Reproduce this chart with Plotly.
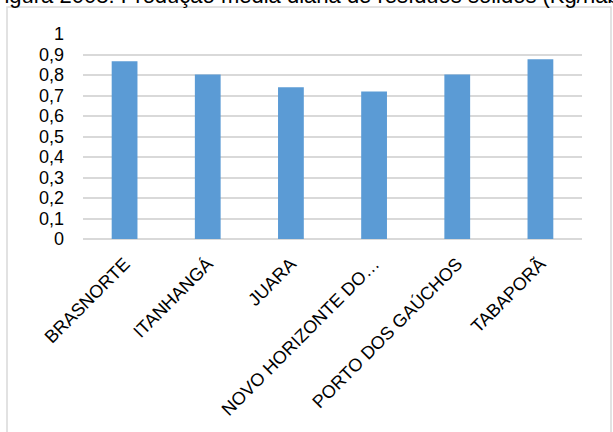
import plotly.graph_objects as go

# Produção média diária de resíduos sólidos por município
municipios = ["BRASNORTE", "ITANHANGÁ", "JUARA", "NOVO HORIZONTE DO…",
              "PORTO DOS GAÚCHOS", "TABAPORÃ"]
producao = [0.867, 0.803, 0.74, 0.72, 0.803, 0.877]
y_ticks = [0, 0.1, 0.2, 0.3, 0.4, 0.5, 0.6, 0.7, 0.8, 0.9, 1]
titulo = "Figura 2008: Produção média diária de resíduos sólidos (Kg/habitante/dia)"

W, H = 613, 432
L, R, T, B = 83, 582, 34, 239  # plot area in pixels


def px_x(p):
    return (p - L) / (R - L)


def px_y(p):
    return (B - p) / (B - T)


fig = go.Figure(go.Bar(
    x=municipios, y=producao,
    marker=dict(color="#5b9bd5", line=dict(width=0)),
))

fig.update_layout(
    width=W, height=H,
    margin=dict(l=L, r=W - R, t=T, b=H - B, autoexpand=False),
    paper_bgcolor="white", plot_bgcolor="white",
    separators=",.",
    bargap=0.69,
    showlegend=False,
    font=dict(family="Arial, Liberation Sans", color="#000000"),
)

fig.update_yaxes(
    range=[0, 1], tickvals=y_ticks, tickformat=".1~f", automargin=False,
    showgrid=True, gridcolor="#d9d9d9", gridwidth=1.5,
    zeroline=True, zerolinecolor="#d9d9d9", zerolinewidth=1.5,
    showline=False, ticks="", ticklabelstandoff=18,
    tickfont=dict(size=18, color="#000000"),
)
fig.update_xaxes(
    tickangle=-45, showline=False, ticks="", ticklabelstandoff=10,
    automargin=False,
    tickfont=dict(size=18, color="#000000"),
)

# chart border
fig.add_shape(
    type="rect", xref="paper", yref="paper",
    x0=px_x(7), x1=px_x(611), y0=px_y(445), y1=px_y(7),
    line=dict(color="#d9d9d9", width=1.5), fillcolor="rgba(0,0,0,0)",
    layer="below",
)

# caption above the chart
fig.add_annotation(
    text=titulo, xref="paper", yref="paper",
    x=px_x(-11), y=px_y(10), xanchor="left", yanchor="bottom",
    showarrow=False, font=dict(size=22, color="#000000"),
)

fig.write_html("out.html")
